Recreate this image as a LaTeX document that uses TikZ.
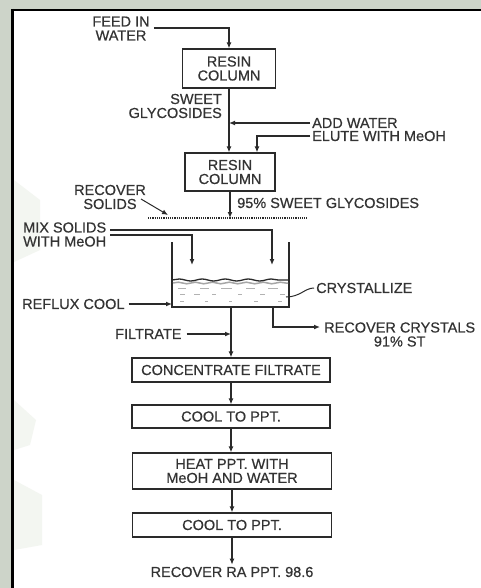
\documentclass[tikz,border=0pt]{standalone}
\usepackage{fontspec}
\setmainfont[FakeBold=0.5]{Liberation Sans}
\usetikzlibrary{arrows.meta,decorations.pathmorphing}
\definecolor{ink}{HTML}{2A2A2A}
\definecolor{txt}{HTML}{333333}
\definecolor{wm}{HTML}{CDD4C9}
\definecolor{wmlight}{HTML}{F3F6F1}
\begin{document}
\begin{tikzpicture}[x=1pt,y=-1pt,
  lbl/.style={font=\fontsize{14.5}{14}\selectfont, text=txt, inner sep=0pt},
  box/.style={draw=ink, line width=1.2pt, inner sep=0pt, align=center,
              font=\fontsize{14.5}{14}\selectfont, text=txt},
  flow/.style={draw=ink, line width=1.3pt, -{Latex[length=6pt,width=5pt]}},
  pipe/.style={draw=ink, line width=1.3pt},
  speck/.style={draw=gray!60, line width=1pt}]
\useasboundingbox (0,0) rectangle (481,588);
% background and frame
\fill[wm] (0,0) rectangle (481,9);
\fill[wm] (0,0) rectangle (11,588);
\fill[white] (11,9) rectangle (481,588);
\fill[wmlight] (14,180) -- (40,200) -- (40,250) -- (14,262) -- cycle;
\fill[wmlight] (14,400) -- (36,420) -- (30,445) -- (14,450) -- cycle;
\fill[wmlight] (14,480) -- (42,495) -- (42,545) -- (14,550) -- cycle;
\draw[black, line width=3pt] (12.5,9) -- (12.5,588);
\draw[black, line width=2.5pt] (11,10) -- (481,10);

% top section
\node[lbl, align=center] (feed) at (121,28.5) {FEED IN\\WATER};
\node[box, minimum width=93pt, minimum height=39pt] (rc1) at (229,68.5) {RESIN\\COLUMN};
\draw[flow] ([xshift=4pt,yshift=0.5pt]feed.east) -| (rc1.north);
\node[lbl, align=right, anchor=east] (sweet) at (222,106) {SWEET\\GLYCOSIDES};
\node[box, minimum width=90pt, minimum height=38pt] (rc2) at (230,172) {RESIN\\COLUMN};
\draw[flow] (rc1.south) -- (rc1.south |- rc2.north);
\coordinate (j1) at (229,123);
\node[lbl, anchor=west] (addw) at (312,123) {ADD WATER};
\draw[flow] ([xshift=-2pt]addw.west) -- (j1);
\node[lbl, anchor=west] (elute) at (312,136) {ELUTE WITH MeOH};
\draw[flow] ([xshift=-2pt]elute.west) -| ([xshift=27pt]rc2.north);

% recover solids
\node[lbl, align=center] (recsol) at (110,197) {RECOVER\\SOLIDS};
\coordinate (ls) at (141,199);
\coordinate (le) at (168,215);
\draw[flow, line width=1pt] (ls) -- (le);
\coordinate (d1) at (148,218);
\coordinate (d2) at (307,218);
\draw[ink, line width=1.5pt, dash pattern=on 1.2pt off 1pt] (d1) -- (d2);
\coordinate (dc) at (230,218);
\draw[flow] (rc2.south) -- (dc);
\node[lbl, anchor=west] (g95) at (237,203) {95\% SWEET GLYCOSIDES};

% mix solids
\node[lbl, align=left, anchor=west] (mix) at (23,234.5) {MIX SOLIDS\\WITH MeOH};
\coordinate (inL) at (192,265);
\coordinate (inR) at (272,265);
\draw[flow] ([xshift=4pt,yshift=4.5pt]mix.east) -| (inR);
\draw[flow] ([xshift=4pt,yshift=-0.5pt]mix.east) -| (inL);

% vessel
\coordinate (vtl) at (172,242);
\coordinate (vbl) at (172,307);
\coordinate (vbr) at (289,307);
\coordinate (vtr) at (289,242);
\draw[pipe] (vtl) -- (vbl) -- (vbr) -- (vtr);
\draw[gray!70, line width=1.5pt, decorate, decoration={snake, amplitude=0.8pt, segment length=17pt}] (173,283) -- (288,283);
\draw[ink, line width=1.3pt, decorate, decoration={snake, amplitude=1pt, segment length=23pt}] (172,280) -- (289,280);
\draw[speck] (178,288) -- (186,288); \draw[speck] (200,288) -- (209,288);
\draw[speck] (221,288) -- (232,288); \draw[speck] (246,288) -- (255,288);
\draw[speck] (268,288) -- (278,288);
\draw[speck] (180,294) -- (185,294); \draw[speck] (194,294) -- (200,294);
\draw[speck] (212,294) -- (216,294); \draw[speck] (238,294) -- (242,294);
\draw[speck] (260,294) -- (265,294); \draw[speck] (280,294) -- (285,294);
\draw[speck] (180,301) -- (184,301); \draw[speck] (205,301) -- (208,301);
\draw[speck] (229,301) -- (232,301); \draw[speck] (254,301) -- (258,301);
\draw[speck] (278,301) -- (282,301);

\node[lbl, anchor=west] (cry) at (316,288) {CRYSTALLIZE};
\draw[ink, line width=1pt] ([xshift=-2pt]cry.west) .. controls (305,288) and (300,297) .. (286,297);
\node[lbl, anchor=west] (ref) at (22,304) {REFLUX COOL};
\draw[flow] ([xshift=4pt]ref.east) -- (vbl |- ref.east);

% outlets
\node[box, minimum width=198pt, minimum height=24pt] (conc) at (231,370) {CONCENTRATE FILTRATE};
\coordinate (vout) at (231,307);
\draw[flow] (vout) -- (conc.north);
\node[lbl, anchor=west] (filt) at (115,334) {FILTRATE};
\draw[flow] ([xshift=5pt]filt.east) -- (vout |- filt.east);
\node[lbl, align=center, anchor=west] (rcry) at (324,334.5) {RECOVER CRYSTALS\\91\% ST};
\coordinate (vout2) at (273,307);
\draw[flow] (vout2) |- ([xshift=-4pt,yshift=7.5pt]rcry.west);

% lower chain
\node[box, minimum width=198pt, minimum height=23pt] (cool1) at (231,416.5) {COOL TO PPT.};
\node[box, minimum width=199pt, minimum height=36pt] (heat) at (232,471) {HEAT PPT. WITH\\MeOH AND WATER};
\node[box, minimum width=199pt, minimum height=24pt] (cool2) at (232,525) {COOL TO PPT.};
\node[lbl] (ra) at (232,572) {RECOVER RA PPT. 98.6};
\draw[flow] (conc.south) -- (conc.south |- cool1.north);
\draw[flow] (cool1.south) -- (cool1.south |- heat.north);
\draw[flow] (heat.south) -- (heat.south |- cool2.north);
\draw[flow] (cool2.south) -- ([yshift=2pt]cool2.south |- ra.north);
\end{tikzpicture}
\end{document}
